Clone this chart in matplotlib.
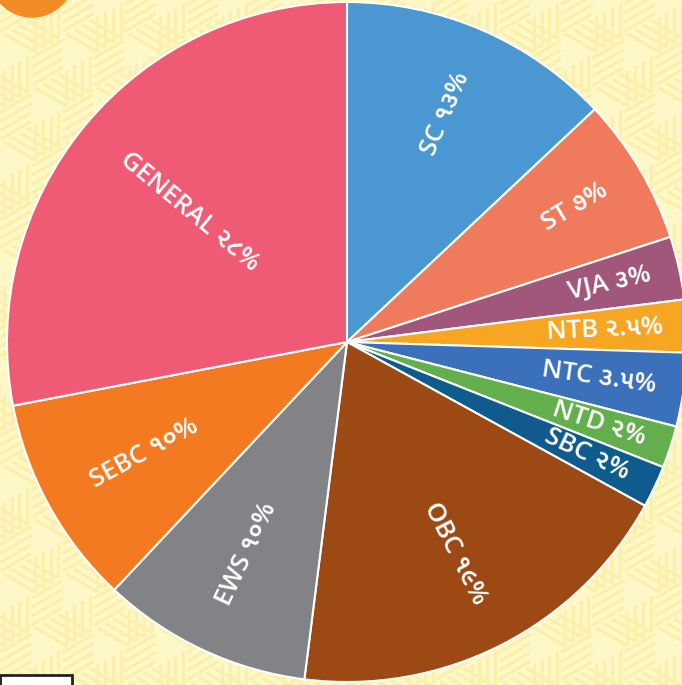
import numpy as np
import matplotlib
matplotlib.use("Agg")
import matplotlib.pyplot as plt
from matplotlib.collections import LineCollection
from matplotlib.patches import Circle, Rectangle

# data
categories = ["SC", "ST", "VJA", "NTB", "NTC", "NTD", "SBC", "OBC", "EWS", "SEBC", "GENERAL"]
shares = [13, 7, 3, 2.5, 3.5, 2, 2, 19, 10, 10, 28]
share_text = ["૧૩", "૭", "૩", "૨.૫", "૩.૫", "૨", "૨", "૧૯", "૧૦", "૧૦", "૨૮"]
colors = ["#4A97D2", "#F07A5C", "#A0577B", "#F6A623", "#3B70BA", "#64AF4D",
          "#0F5B8E", "#9C4914", "#828386", "#F47A21", "#EF5A75"]
label_r = [0.73, 0.78, 0.79, 0.76, 0.75, 0.78, 0.78, 0.70, 0.69, 0.68, 0.60]

families = ["Open Sans", "Noto Sans Gujarati UI", "DejaVu Sans"]

W, H = 682, 685
cx, cy, R = 347, 342, 340
bg = "#FEF8C9"
stripe = "#FAF0AB"

fig = plt.figure(figsize=(W / 100, H / 100), dpi=100)
fig.patch.set_facecolor(bg)

# background: striped isometric cubes, in pixel coords
bgax = fig.add_axes([0, 0, 1, 1], zorder=0)
bgax.set_xlim(0, W)
bgax.set_ylim(H, 0)
bgax.axis("off")
s = 36.0
n = 4
segs = []
dirs = [np.array([np.cos(np.deg2rad(a)), -np.sin(np.deg2rad(a))]) * s for a in (90, 30, -30, -90, -150, 150)]
for row in range(-1, int(H / (1.5 * s)) + 3):
    for col in range(-1, int(W / (np.sqrt(3) * s)) + 3):
        c = np.array([col * np.sqrt(3) * s + (row % 2) * np.sqrt(3) / 2 * s, row * 1.5 * s])
        # three rhombi: stripes parallel to a, stacked along b
        for a, b in ((dirs[5], dirs[1]), (dirs[1], dirs[3]), (dirs[3], dirs[4])):
            for k in range(n):
                t = (k + 0.5) / n
                p = c + t * b
                segs.append([p, p + a])
bgax.add_collection(LineCollection(segs, colors=stripe, linewidths=2.4, capstyle="butt"))
bgax.add_patch(Circle((32, -25), 42, color="#F28A26", zorder=3))

ax = fig.add_axes([0, 0, 1, 1], zorder=1)
ax.patch.set_alpha(0)

wedges, _ = ax.pie(shares, colors=colors, startangle=90, counterclock=False,
                   radius=1, wedgeprops=dict(edgecolor="white", linewidth=1.5))

for w, cat, txt, r in zip(wedges, categories, share_text, label_r):
    mid = (w.theta1 + w.theta2) / 2
    a = np.deg2rad(mid)
    rot = mid if np.cos(a) >= 0 else mid + 180
    rot = (rot + 180) % 360 - 180
    ax.text(r * np.cos(a), r * np.sin(a), f"{cat} {txt}%", color="white",
            fontsize=18.5, fontweight="semibold", family=families,
            rotation=rot, rotation_mode="anchor", ha="center", va="center")

ax.add_patch(Rectangle((-cx / R, (cy - 690) / R), 72 / R, 15 / R, facecolor="white",
                       edgecolor="#222222", linewidth=2, zorder=3))

ax.set_xlim(-cx / R, (W - cx) / R)
ax.set_ylim(-(H - cy) / R, cy / R)
ax.set_aspect("equal")
ax.axis("off")

fig.savefig("out.png", dpi=100, facecolor=bg)
